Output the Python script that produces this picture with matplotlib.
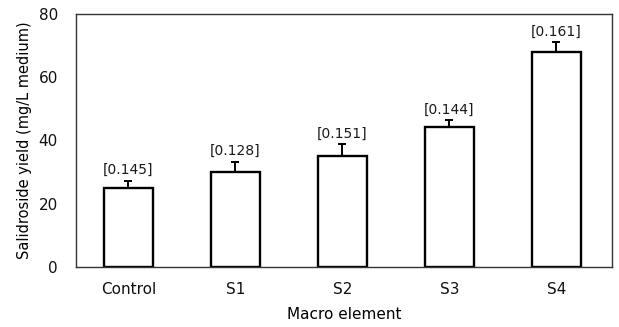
import matplotlib
matplotlib.use("Agg")
import matplotlib.pyplot as plt
import numpy as np

plt.rcParams['font.family'] = ['DejaVu Sans']

categories = ["Control", "S1", "S2", "S3", "S4"]
yields = [25.1, 30.1, 35.1, 44.4, 68.1]
errors = [2.2, 3.2, 3.8, 2.1, 2.9]
ratios = ["[0.145]", "[0.128]", "[0.151]", "[0.144]", "[0.161]"]
yticks = [0, 20, 40, 60, 80]

fig = plt.figure(figsize=(6.19, 3.27), dpi=100)
ax = fig.add_axes([0.1228, 0.1835, 0.8659, 0.7737])

x = np.arange(len(categories))
ax.bar(x, yields, width=0.46, color="white", edgecolor="black", linewidth=1.7, zorder=2)
ax.errorbar(x, yields, yerr=[[0] * len(errors), errors], fmt="none",
            ecolor="black", elinewidth=1.4, capsize=2.6, capthick=1.4, zorder=3)

for xi, y, e, lab in zip(x, yields, errors, ratios):
    ax.annotate(lab, (xi, y + e), xytext=(0, 2.5), textcoords="offset points",
                ha="center", va="bottom", fontsize=10, color="#1a1a1a")

ax.set_xlim(-0.49, 4.52)
ax.set_ylim(0, 80)
ax.set_xticks(x)
ax.set_xticklabels(categories, fontsize=11)
ax.set_yticks(yticks)
ax.set_yticklabels([str(t) for t in yticks], fontsize=11)
ax.tick_params(axis="both", length=0, colors="#111111")
ax.tick_params(axis="x", pad=11)
ax.tick_params(axis="y", pad=13)

for s in ax.spines.values():
    s.set_linewidth(1.0)
    s.set_color("#333333")

ax.set_ylabel("Salidroside yield (mg/L medium)", fontsize=10.5, labelpad=5)
ax.set_xlabel("Macro element", fontsize=11, labelpad=7)

fig.savefig("out.png", dpi=100)
